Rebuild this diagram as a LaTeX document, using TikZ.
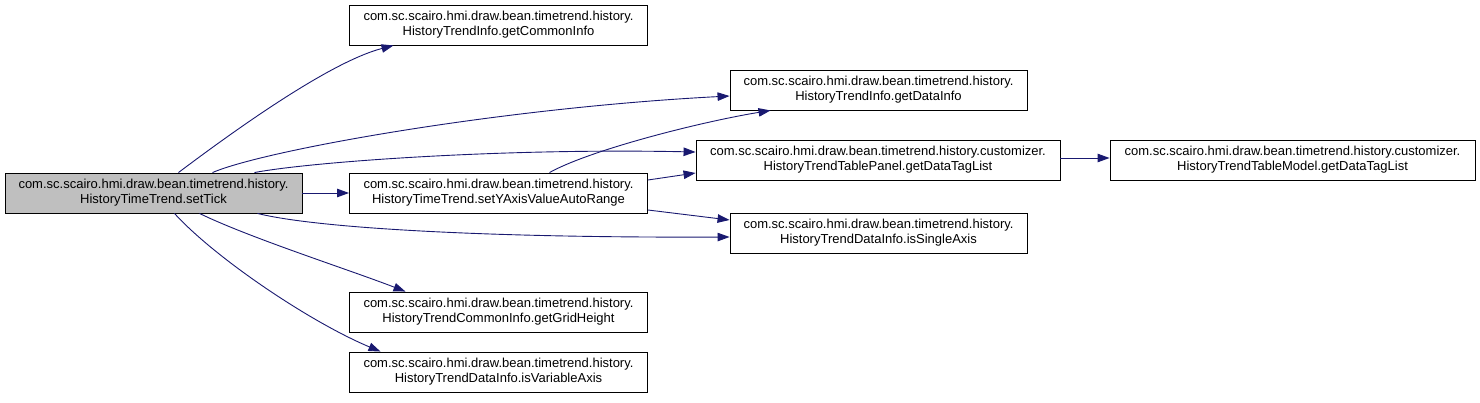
\documentclass[tikz,border=0pt]{standalone}
\usepackage{fontspec}
\setmainfont{Liberation Sans}
\usetikzlibrary{arrows.meta}
\definecolor{edgecol}{HTML}{191970}
\definecolor{mainfill}{HTML}{BFBFBF}
\begin{document}
\begin{tikzpicture}[x=1pt,y=-1pt,
  box/.style={draw=black,line width=0.9pt,fill=white,minimum height=40pt,inner sep=0pt,align=center,font=\fontsize{13}{15}\selectfont},
  edge/.style={draw=edgecol,line width=0.9pt,-{Triangle[length=12pt,width=8.5pt]}}]
\useasboundingbox (0,0) rectangle (1480,403);
\node[box,fill=mainfill,minimum width=297pt] (main) at (153.5,193) {com.sc.scairo.hmi.draw.bean.timetrend.history.\\HistoryTimeTrend.setTick};
\node[box,minimum width=298pt] (common) at (498.5,25) {com.sc.scairo.hmi.draw.bean.timetrend.history.\\HistoryTrendInfo.getCommonInfo};
\node[box,minimum width=297pt] (datainfo) at (878.5,90) {com.sc.scairo.hmi.draw.bean.timetrend.history.\\HistoryTrendInfo.getDataInfo};
\node[box,minimum width=364pt] (panel) at (878,160) {com.sc.scairo.hmi.draw.bean.timetrend.history.customizer.\\HistoryTrendTablePanel.getDataTagList};
\node[box,minimum width=365pt] (model) at (1292.5,160) {com.sc.scairo.hmi.draw.bean.timetrend.history.customizer.\\HistoryTrendTableModel.getDataTagList};
\node[box,minimum width=298pt] (sety) at (498.5,193) {com.sc.scairo.hmi.draw.bean.timetrend.history.\\HistoryTimeTrend.setYAxisValueAutoRange};
\node[box,minimum width=297pt] (single) at (878.5,233) {com.sc.scairo.hmi.draw.bean.timetrend.history.\\HistoryTrendDataInfo.isSingleAxis};
\node[box,minimum width=298pt] (grid) at (498.5,312) {com.sc.scairo.hmi.draw.bean.timetrend.history.\\HistoryTrendCommonInfo.getGridHeight};
\node[box,minimum width=298pt] (variable) at (498.5,372) {com.sc.scairo.hmi.draw.bean.timetrend.history.\\HistoryTrendDataInfo.isVariableAxis};
% edges
\draw[edge] ([xshift=25pt]main.north) .. controls (235,130) and (330,62) .. ([xshift=-105pt]common.south);
\draw[edge] ([xshift=59pt]main.north) .. controls (265,150) and (500,108) .. ([yshift=-6pt]datainfo.west);
\draw[edge] ([xshift=101pt]main.north) .. controls (310,162) and (500,148) .. ([yshift=8pt]panel.west);
\draw[edge] (main.east) -- (sety.west);
\draw[edge] ([xshift=104pt]main.south) .. controls (320,229) and (500,238) .. ([yshift=-4pt]single.west);
\draw[edge] ([xshift=46pt]main.south) .. controls (250,238) and (350,270) .. ([xshift=-93pt]grid.north);
\draw[edge] ([xshift=21pt]main.south) .. controls (215,258) and (310,322) .. ([xshift=-118pt]variable.north);
\draw[edge] ([xshift=51pt]sety.north) .. controls (590,150) and (700,122) .. ([xshift=-108pt]datainfo.south);
\draw[edge] ([yshift=13pt]sety.east) -- ([yshift=-13pt]panel.west);
\draw[edge] ([yshift=-17pt]sety.east) -- ([yshift=13pt]single.west);
\draw[edge] ([yshift=2pt]panel.east) -- ([yshift=2pt]model.west);
\end{tikzpicture}
\end{document}
